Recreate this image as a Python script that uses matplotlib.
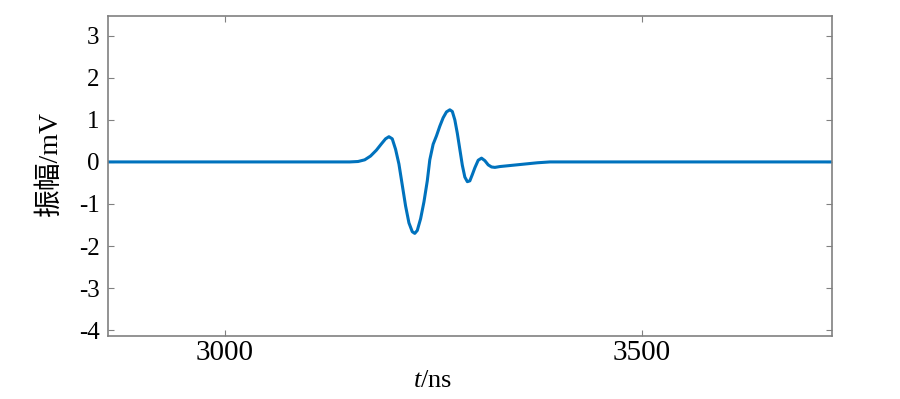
import numpy as np
import matplotlib.pyplot as plt

# waveform (time in ns, amplitude in mV)
t_ns = [2860, 3150, 3160, 3168, 3175, 3182, 3188, 3193, 3197, 3201, 3205, 3209,
        3213, 3217, 3221, 3225, 3228, 3231, 3235, 3239, 3243, 3246, 3250, 3254,
        3258, 3262, 3266, 3270, 3273, 3276, 3279, 3282, 3285, 3288, 3291, 3294,
        3297, 3300, 3304, 3308, 3312, 3316, 3320, 3324, 3330, 3340, 3350, 3360,
        3375, 3390, 3730]
amp_mv = [0, 0, 0.01, 0.05, 0.14, 0.28, 0.43, 0.55, 0.60, 0.55, 0.30, -0.05,
          -0.55, -1.05, -1.45, -1.66, -1.70, -1.63, -1.35, -0.95, -0.45, 0.05, 0.42, 0.62,
          0.85, 1.05, 1.19, 1.24, 1.20, 1.00, 0.68, 0.30, -0.08, -0.36, -0.47, -0.45,
          -0.30, -0.14, 0.04, 0.09, 0.03, -0.07, -0.12, -0.13, -0.11, -0.09, -0.07, -0.05,
          -0.02, 0, 0]

x_ticks = [3000, 3500]
y_ticks = [-4, -3, -2, -1, 0, 1, 2, 3]

plt.rcParams['mathtext.fontset'] = 'custom'
plt.rcParams['mathtext.it'] = 'Liberation Serif:italic'
plt.rcParams['mathtext.rm'] = 'Liberation Serif'

fig = plt.figure(figsize=(9, 3.99), dpi=100)
ax = fig.add_axes([0.1197, 0.158, 0.8047, 0.8028])

ax.plot(t_ns, amp_mv, color='#0072BD', lw=2.2)

ax.set_xlim(2860, 3728)
ax.set_ylim(-4.14, 3.48)
ax.set_xticks(x_ticks)
ax.set_yticks(y_ticks)
ax.set_yticklabels([str(v) for v in y_ticks])

ax.tick_params(direction='in', top=True, right=True, length=4, width=0.8,
               color='#808080')
ax.tick_params(axis='x', labelsize=21, pad=3)
ax.tick_params(axis='y', labelsize=18, pad=6)
for lbl in ax.get_xticklabels() + ax.get_yticklabels():
    lbl.set_family('Liberation Serif')
for s in ax.spines.values():
    s.set_color('#808080')
    s.set_linewidth(1.2)

ax.set_xlabel('$t$/ns', fontsize=19, family='Liberation Serif')
ax.xaxis.set_label_coords(0.448, -0.105)
ax.set_ylabel('振幅/mV', fontsize=20, family=['Liberation Serif', 'Noto Sans CJK SC'])
ax.yaxis.set_label_coords(-0.062, 0.537)

fig.savefig('out.png', dpi=100)
